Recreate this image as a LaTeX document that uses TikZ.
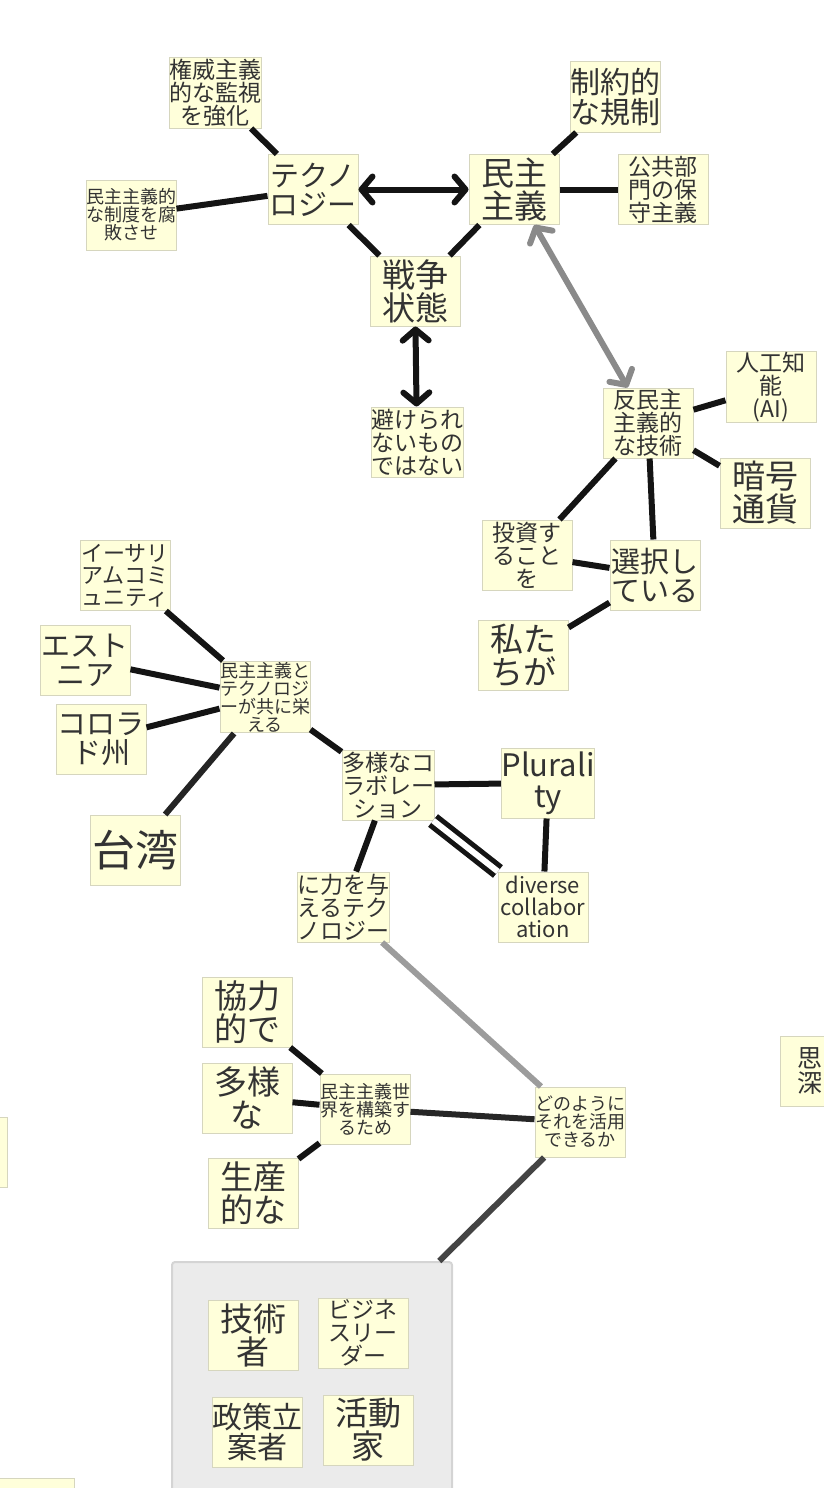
\documentclass[tikz,border=0pt]{standalone}
\usepackage{fontspec}
\setmainfont{Noto Sans CJK JP}
\usetikzlibrary{arrows.meta}
\definecolor{notefill}{HTML}{FFFFDA}
\definecolor{noteline}{HTML}{D6D6BE}
\definecolor{inktext}{HTML}{333333}
\definecolor{linkdark}{HTML}{141414}
\definecolor{linkgrey}{HTML}{8A8A8A}
\definecolor{linklight}{HTML}{9C9C9C}
\definecolor{linkmid}{HTML}{444444}
\definecolor{groupfill}{HTML}{EBEBEB}
\definecolor{groupline}{HTML}{D4D4D4}
\newcommand{\notesize}[1]{\fontsize{#1}{#1}\selectfont}
\tikzset{
  note/.style={draw=noteline, line width=1pt, fill=notefill, text=inktext,
    minimum width=90pt, minimum height=70pt, inner xsep=0pt, inner ysep=1pt, align=center},
  link/.style={draw=linkdark, line width=6pt},
  twohead/.style={link, {Straight Barb[length=11pt,width=26pt,round]}-{Straight Barb[length=11pt,width=26pt,round]}},
}
\begin{document}
\begin{tikzpicture}[x=1pt,y=-1pt]
\useasboundingbox (0,0) rectangle (824,1488);
\clip (0,0) rectangle (824,1488);
% top cluster
\node[note, font=\notesize{23}] (kenni) at (215,93) {権威主義\\的な監視\\を強化};
\node[note, font=\notesize{29}] (tech) at (313,189.5) {テクノ\\ロジー};
\node[note, font=\notesize{18}] (seido) at (131,215) {民主主義的\\な制度を腐\\敗させ};
\node[note, font=\notesize{33}] (minshu) at (514,189.5) {民主\\主義};
\node[note, font=\notesize{30}] (seiyaku) at (615,97) {制約的\\な規制};
\node[note, font=\notesize{23}] (koukyo) at (663,189.5) {公共部\\門の保\\守主義};
\node[note, font=\notesize{33}] (senso) at (415,291) {戦争\\状態};
\node[note, font=\notesize{23}] (sakerare) at (417,442) {避けられ\\ないもの\\ではない};
\draw[link] (kenni) -- (tech);
\draw[link] (seido) -- (tech);
\draw[twohead] (tech) -- (minshu);
\draw[link] (tech) -- (senso);
\draw[link] (minshu) -- (senso);
\draw[link] (minshu) -- (seiyaku);
\draw[link] (minshu) -- (koukyo);
\draw[twohead] (senso) -- (sakerare);
% anti-democratic tech
\node[note, font=\notesize{23}] (hanmin) at (648,423) {反民主\\主義的\\な技術};
\node[note, font=\notesize{23}] (jinko) at (771,387) {人工知\\能\\(AI)};
\node[note, font=\notesize{33}] (angou) at (765,493) {暗号\\通貨};
\node[note, font=\notesize{23}] (toushi) at (527,555) {投資す\\ること\\を};
\node[note, font=\notesize{29}] (sentaku) at (655,575) {選択し\\ている};
\node[note, font=\notesize{33}] (watashi) at (523,655) {私た\\ちが};
\draw[twohead, draw=linkgrey] (minshu) -- (hanmin);
\draw[link] (hanmin) -- (jinko);
\draw[link] (hanmin) -- (angou);
\draw[link] (hanmin) -- (toushi);
\draw[link] (hanmin) -- (sentaku);
\draw[link] (toushi) -- (sentaku);
\draw[link] (sentaku) -- (watashi);
% flourishing together
\node[note, font=\notesize{22}] (eth) at (125,575.5) {イーサリ\\アムコミ\\ュニティ};
\node[note, font=\notesize{29}] (eston) at (85,660) {エスト\\ニア};
\node[note, font=\notesize{29}] (colo) at (101,739) {コロラ\\ド州};
\node[note, font=\notesize{43}] (taiwan) at (135,850) {台湾};
\node[note, font=\notesize{18}] (kyoei) at (265,697) {民主主義と\\テクノロジ\\ーが共に栄\\える};
\node[note, font=\notesize{23}] (tayou) at (388,785) {多様なコ\\ラボレー\\ション};
\node[note, font=\notesize{31}] (plur) at (548,783) {Plurali\\ty};
\node[note, font=\notesize{23}] (chikara) at (343,907) {に力を与\\えるテク\\ノロジー};
\node[note, font=\notesize{22}] (diverse) at (543,907) {diverse\\collabor\\ation};
\draw[link] (eth) -- (kyoei);
\draw[link] (eston) -- (kyoei);
\draw[link] (colo) -- (kyoei);
\draw[link, draw=black!86] (taiwan) -- (kyoei);
\draw[link] (kyoei) -- (tayou);
\draw[link] (tayou) -- (plur);
\draw[link] (tayou) -- (chikara);
\draw[link] (plur) -- (diverse);
\draw[draw=linkdark, line width=5pt, double=white, double distance=6pt] (tayou) -- (diverse);
% building a democratic world
\node[note, font=\notesize{33}] (kyou) at (247,1012) {協力\\的で};
\node[note, font=\notesize{33}] (tayona) at (247,1098) {多様\\な};
\node[note, font=\notesize{33}] (seisan) at (253,1193) {生産\\的な};
\node[note, font=\notesize{18}] (sekai) at (365,1109) {民主主義世\\界を構築す\\るため};
\node[note, font=\notesize{18}] (dono) at (580,1122) {どのように\\それを活用\\できるか};
\draw[link, draw=linklight] (chikara) -- (dono);
\draw[link] (kyou) -- (sekai);
\draw[link] (tayona) -- (sekai);
\draw[link] (seisan) -- (sekai);
\draw[link, draw=black!85] (sekai) -- (dono);
% who
\node[draw=groupline, line width=2pt, fill=groupfill, rounded corners=3pt,
  minimum width=280pt, minimum height=250pt] (grp) at (312,1387) {};
\draw[link, draw=linkmid] (dono) -- (grp);
\node[note, font=\notesize{33}] (gijutsu) at (253,1335) {技術\\者};
\node[note, font=\notesize{23}] (biz) at (363,1333) {ビジネ\\スリー\\ダー};
\node[note, font=\notesize{30}] (seisaku) at (257,1432) {政策立\\案者};
\node[note, font=\notesize{33}] (katsudo) at (368,1430) {活動\\家};
% cut off at the edges
\node[note, font=\notesize{25}, text width=56pt, align=left] (shiryo) at (825,1071) {思\\深};
\node[note] (leftcut) at (-38,1152) {};
\node[anchor=north east, inner sep=0pt, text=inktext, font=\notesize{22}] (leftcuttext) at (3,1126) {用};
\node[note] (bottomcut) at (29,1513) {};
\end{tikzpicture}
\end{document}
